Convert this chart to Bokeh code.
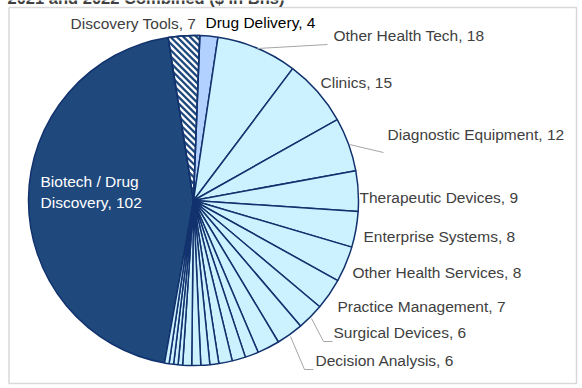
import numpy as np
from bokeh.plotting import figure
from bokeh.models import Range1d, ColumnDataSource
from bokeh.core.properties import value
from bokeh.embed import file_html
from bokeh.resources import INLINE

# ---- data ----
categories = ["Biotech / Drug Discovery", "Discovery Tools", "Drug Delivery",
              "Other Health Tech", "Clinics", "Diagnostic Equipment",
              "Therapeutic Devices", "Enterprise Systems", "Other Health Services",
              "Practice Management", "Surgical Devices", "Decision Analysis",
              "Small 1", "Small 2", "Small 3", "Small 4", "Small 5", "Small 6",
              "Small 7", "Small 8", "Small 9", "Small 10", "Small 11", "Small 12"]
values = [102, 7, 4, 18, 15, 12, 9, 8, 8, 7, 6, 6,
          5, 3, 3, 3, 2, 2, 2, 2, 1, 1, 1, 1]
label_names = ["Biotech / Drug", "Discovery Tools", "Drug Delivery",
               "Other Health Tech", "Clinics", "Diagnostic Equipment",
               "Therapeutic Devices", "Enterprise Systems", "Other Health Services",
               "Practice Management", "Surgical Devices", "Decision Analysis"]
title_text = "2021 and 2022 Combined ($ in Bns)"

# ---- styling / layout ----
W, H = 582, 388
NAVY = "#1F497D"
EDGE = "#12326E"
LIGHT = "#CCF2FF"
DRUG = "#B3D1FF"
FONT = "Liberation Sans"
cx, cy, r = 193, 200, 165          # pixel coords of pie centre / radius
first_angle = 190.1                # clockwise from 12 o'clock, degrees
STRIPE = 6.5                       # stripe period of the hatched slice, px

def Y(py):
    return H - py

p = figure(width=W, height=H, x_range=Range1d(0, W), y_range=Range1d(0, H),
           output_backend="svg", toolbar_location=None, min_border=0,
           x_axis_type=None, y_axis_type=None,
           styles={"position": "absolute", "left": "0px", "top": "0px"})
p.grid.visible = False
p.outline_line_color = None
p.background_fill_color = "white"
p.border_fill_color = "white"

# chart-area border
p.quad(left=[8.5], right=[576], bottom=[Y(383)], top=[Y(7)],
       fill_alpha=0, line_color="#D9D9D9", line_width=1.5)

# wedges
vals = np.array(values, dtype=float)
frac = vals / vals.sum() * 2 * np.pi
cum_end = np.cumsum(frac)
cum_start = cum_end - frac
th0 = np.deg2rad(first_angle)
start = np.pi / 2 - (th0 + cum_end)
end = np.pi / 2 - (th0 + cum_start)
fills = [NAVY, "white", DRUG] + [LIGHT] * (len(values) - 3)
src = ColumnDataSource(dict(start=start, end=end, fill=fills, cat=categories,
                            val=values))
p.wedge(x=cx, y=Y(cy), radius=r, start_angle="start", end_angle="end",
        fill_color="fill", line_color=EDGE, line_width=1.5, source=src)

# diagonal stripes of the Discovery Tools slice (clipped to the slice)
def clip(poly, a, b, c):
    out = []
    n = len(poly)
    for i in range(n):
        P, Q = poly[i], poly[(i + 1) % n]
        fp = a * P[0] + b * P[1] + c
        fq = a * Q[0] + b * Q[1] + c
        if fp >= 0:
            out.append(P)
        if (fp >= 0) != (fq >= 0):
            t = fp / (fp - fq)
            out.append((P[0] + t * (Q[0] - P[0]), P[1] + t * (Q[1] - P[1])))
    return out

angs = np.linspace(start[1], end[1], 40)
wedge_poly = [(cx, Y(cy))] + [(cx + r * np.cos(a), Y(cy) + r * np.sin(a)) for a in angs]
ks = [x + y for x, y in wedge_poly]
kmin, kmax = min(ks), max(ks)
sx, sy = [], []
k0 = np.floor(kmin / STRIPE) * STRIPE
while k0 < kmax:
    band = clip(wedge_poly, 1, 1, -k0)
    band = clip(band, -1, -1, k0 + STRIPE / 2)
    if len(band) >= 3:
        sx.append([pt[0] for pt in band])
        sy.append([pt[1] for pt in band])
    k0 += STRIPE
p.patches(sx, sy, fill_color=NAVY, line_color=None)
p.wedge(x=cx, y=Y(cy), radius=r, start_angle=start[1], end_angle=end[1],
        fill_alpha=0, line_color=EDGE, line_width=1.5)

# leader lines (pixel positions)
leaders = [
    ([257, 327], [48, 44]),
    ([349, 383], [144, 152]),
    ([311, 323, 332], [318, 341, 341]),
    ([290, 304, 313], [336, 369, 369]),
]
for xs, ys in leaders:
    p.line(xs, [Y(v) for v in ys], line_color="#A6A6A6", line_width=1)

# labels (x = left edge, y = vertical centre of the text, pixel coords)
lab_x = [40, 70, 205, 333, 320, 387, 359, 363, 352, 337, 333, 315]
lab_y = [181, 22.5, 21.5, 35, 81.5, 134, 196.5, 235.5, 272, 306, 331.5, 359.5]
texts, colors = [], []
for i, name in enumerate(label_names):
    texts.append(name if i == 0 else f"{name}, {values[i]}")
    colors.append("white" if i == 0 else ("#000000" if i == 2 else "#404040"))
# second line of the Biotech label
texts.append(f"Discovery, {values[0]}")
colors.append("white")
lab_x = lab_x + [40]
lab_y = lab_y + [202]
lsrc = ColumnDataSource(dict(x=lab_x, y=[Y(v) for v in lab_y], t=texts, c=colors))
p.text(x="x", y="y", text="t", text_color="c", source=lsrc,
       text_font=value(FONT), text_font_size="15.5px",
       text_baseline="middle", text_align="left")

# cut-off title at the top (as in the reference)
p.text(x=[7], y=[Y(-2.5)], text=[title_text], text_font=value(FONT),
       text_font_size="16.5px", text_font_style="bold", text_color="#404040",
       text_baseline="middle", text_align="left")

open("out.html", "w").write(file_html(p, INLINE))
